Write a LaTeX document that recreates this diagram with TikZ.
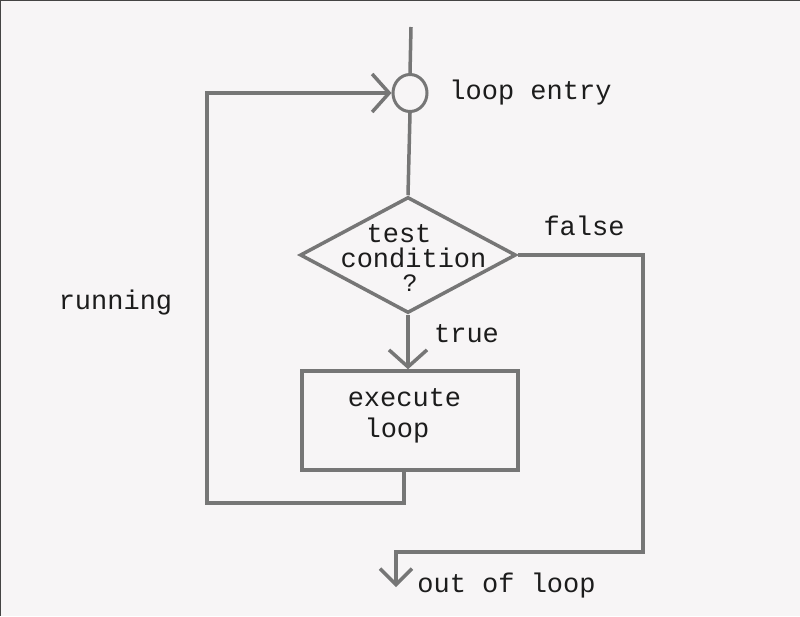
\documentclass[tikz,border=0pt]{standalone}
\usepackage{fontspec}
\setmonofont{Liberation Mono}
\usetikzlibrary{shapes.geometric,arrows.meta}
\definecolor{bg}{RGB}{247,245,246}
\definecolor{ln}{RGB}{118,118,118}
\definecolor{tx}{RGB}{28,28,28}
\definecolor{frame}{RGB}{68,68,68}
\begin{document}
\begin{tikzpicture}[x=1pt,y=-1pt,
  conn/.style={draw=ln,line width=3.5pt},
  arr/.style={-{Straight Barb[length=17pt,width=38pt]}},
  arrsmall/.style={-{Straight Barb[length=16pt,width=32pt]}},
  lbl/.style={font=\ttfamily\fontsize{27}{30}\selectfont,text=tx,inner sep=0pt,anchor=base},
  shapeline/.style={draw=ln,line width=3.5pt,inner sep=0pt}
]
\fill[bg] (0,0) rectangle (800,616);
\useasboundingbox (0,0) rectangle (800,616);
\draw[frame,line width=2pt] (0,616) -- (0,0) -- (800,0);

% nodes
\coordinate (start) at (411,27);
\node[shapeline,ellipse,line width=3pt,minimum width=34pt,minimum height=37pt] (entry) at (410,93) {};
\node[shapeline,diamond,minimum width=216pt,minimum height=116pt] (test) at (408,255) {};
\node[shapeline,rectangle,minimum width=216pt,minimum height=99pt] (exec) at (410,420.5) {};

\coordinate (r1) at (643,255);
\coordinate (r2) at (643,552);
\coordinate (r3) at (396,552);
\coordinate (outend) at (396,587);
\coordinate (b1) at (404,503);
\coordinate (b2) at (207,503);
\coordinate (b3) at (207,93);

% texts
\node[lbl] (t1) at (399,242) {test};
\node[lbl] (t2) at (413.5,267) {condition};
\node[lbl] (t3) at (410,291) {\fontsize{25}{30}\selectfont ?};
\node[lbl] (e1) at (404.5,406) {execute};
\node[lbl] (e2) at (397,437) {loop};
\node[lbl] (lentry) at (530.5,99) {loop entry};
\node[lbl] (lfalse) at (584,235) {false};
\node[lbl] (ltrue) at (466.5,342) {true};
\node[lbl] (lrun) at (115.5,309) {running};
\node[lbl] (lout) at (506.5,592) {out of loop};

% connectors
\draw[conn] (start) -- (entry.north);
\draw[conn] (entry.south) -- (test.north);
\draw[conn,arr] (test.south) -- (exec.north -| test.south);
\draw[conn,arrsmall] (test.east) -- (r1) -- (r2) -- (r3) -- (outend);
\draw[conn,arr] (exec.south -| b1) -- (b1) -- (b2) -- (b3) -- (entry.west);
\end{tikzpicture}
\end{document}
